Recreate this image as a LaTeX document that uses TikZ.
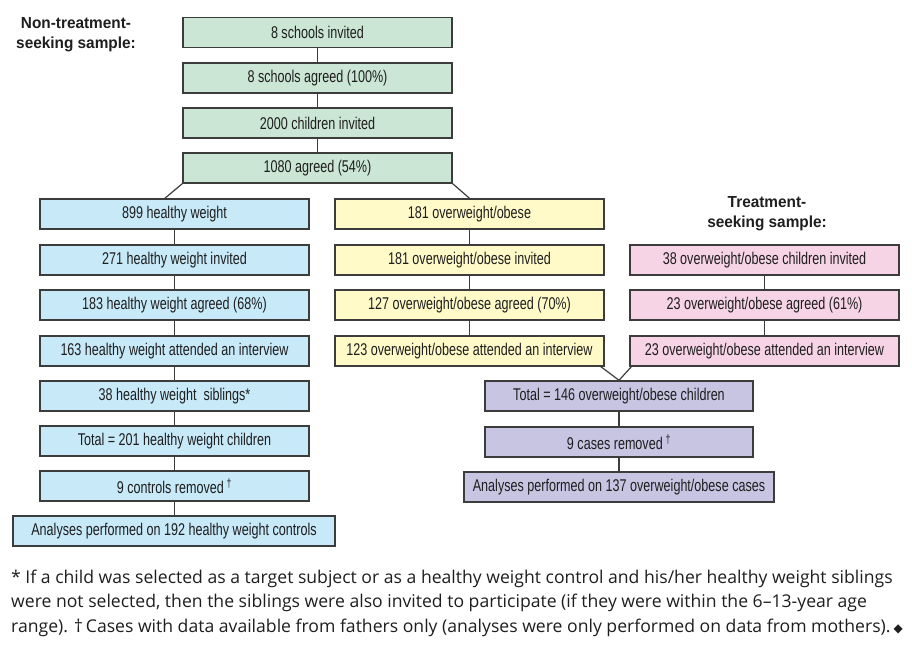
\documentclass[tikz,border=0pt]{standalone}
\usepackage{fontspec}
\setmainfont{Liberation Sans}[FakeStretch=0.74]
\newfontfamily\lblfont{Liberation Sans}[FakeStretch=0.96]
\newfontfamily\notefont{Open Sans}
\newfontfamily\symfont{DejaVu Sans}
\definecolor{gfill}{RGB}{203,230,212}
\definecolor{bfill}{RGB}{199,233,248}
\definecolor{yfill}{RGB}{255,250,200}
\definecolor{pfill}{RGB}{247,212,229}
\definecolor{ufill}{RGB}{199,197,226}
\definecolor{boxline}{RGB}{60,60,60}
\definecolor{txt}{RGB}{30,30,30}
\begin{document}
\begin{tikzpicture}[x=1pt,y=-1pt,
  box/.style={draw=boxline, line width=1.4pt, minimum height=30pt, minimum width=269pt,
    inner sep=0pt, text=txt, font=\fontsize{17}{20}\selectfont},
  gbox/.style={box, fill=gfill},
  bbox/.style={box, fill=bfill},
  ybox/.style={box, fill=yfill},
  pbox/.style={box, fill=pfill},
  ubox/.style={box, fill=ufill},
  lbl/.style={align=center, text=txt, font=\lblfont\bfseries\fontsize{16}{20}\selectfont},
  note/.style={anchor=base west, inner sep=0pt, text=txt, font=\notefont\fontsize{17.6}{20}\selectfont},
  conn/.style={draw=boxline, line width=1.2pt}]
\useasboundingbox (0,0) rectangle (912,651);

% labels
\node[lbl] (ntlabel) at (76,35) {Non-treatment-\\seeking sample:};
\node[lbl] (tlabel) at (767,214) {Treatment-\\seeking sample:};

% green column
\node[gbox] (g1) at (317.5,32.5) {8 schools invited};
\node[gbox] (g2) at (317.5,78) {8 schools agreed (100\%)};
\node[gbox] (g3) at (317.5,123) {2000 children invited};
\node[gbox] (g4) at (317.5,168) {1080 agreed (54\%)};

% blue column
\node[bbox] (b1) at (174.5,214) {899 healthy weight};
\node[bbox] (b2) at (174.5,260) {271 healthy weight invited};
\node[bbox] (b3) at (174.5,305) {183 healthy weight agreed (68\%)};
\node[bbox] (b4) at (174.5,351) {163 healthy weight attended an interview};
\node[bbox] (b5) at (174.5,396) {38 healthy weight\ \ siblings*};
\node[bbox] (b6) at (174.5,441) {Total = 201 healthy weight children};
\node[bbox] (b7) at (174.5,486) {9 controls removed\,\textsuperscript{†}};
\node[bbox, minimum width=322pt] (b8) at (174,531) {Analyses performed on 192 healthy weight controls};

% yellow column
\node[ybox] (y1) at (469.5,214) {181 overweight/obese};
\node[ybox] (y2) at (469.5,260) {181 overweight/obese invited};
\node[ybox] (y3) at (469.5,305) {127 overweight/obese agreed (70\%)};
\node[ybox] (y4) at (469.5,351) {123 overweight/obese attended an interview};

% pink column
\node[pbox] (p1) at (764.5,260) {38 overweight/obese children invited};
\node[pbox] (p2) at (764.5,305) {23 overweight/obese agreed (61\%)};
\node[pbox] (p3) at (764.5,351) {23 overweight/obese attended an interview};

% purple column
\node[ubox, minimum width=268pt] (u1) at (619,396) {Total = 146 overweight/obese children};
\node[ubox, minimum width=268pt] (u2) at (619,442) {9 cases removed\,\textsuperscript{†}};
\node[ubox, minimum width=310pt] (u3) at (619,487) {Analyses performed on 137 overweight/obese cases};

% junction coordinates
\coordinate (jb) at (164,199);
\coordinate (jy) at (600,366);
\coordinate (jp) at (632,366);

% connectors
\draw[conn] (g1) -- (g2);
\draw[conn] (g2) -- (g3);
\draw[conn] (g3) -- (g4);
\draw[conn] (g4.south west) -- (jb);
\draw[conn] (g4.south east) -- (y1.north);
\foreach \a/\b in {b1/b2,b2/b3,b3/b4,b4/b5,b5/b6,b6/b7,y1/y2,y2/y3,y3/y4,p1/p2,p2/p3,u1/u2}
  \draw[conn] (\a.south) -- (\b.north);
\draw[conn] (b7.south) -- (b7.south |- b8.north);
\draw[conn] (u2.south) -- (u2.south |- u3.north);
\draw[conn] (jy) -- (u1.north) -- (jp);

% footnote
\node[note] (n1) at (11,583) {* If a child was selected as a target subject or as a healthy weight control and his/her healthy weight siblings};
\node[note] (n2) at (11,607.5) {were not selected, then the siblings were also invited to participate (if they were within the 6–13-year age};
\node[note] (n3) at (11,632) {range). †\,Cases with data available from fathers only (analyses were only performed on data from mothers).\,{\symfont\fontsize{12}{14}\selectfont ◆}};
\end{tikzpicture}
\end{document}
